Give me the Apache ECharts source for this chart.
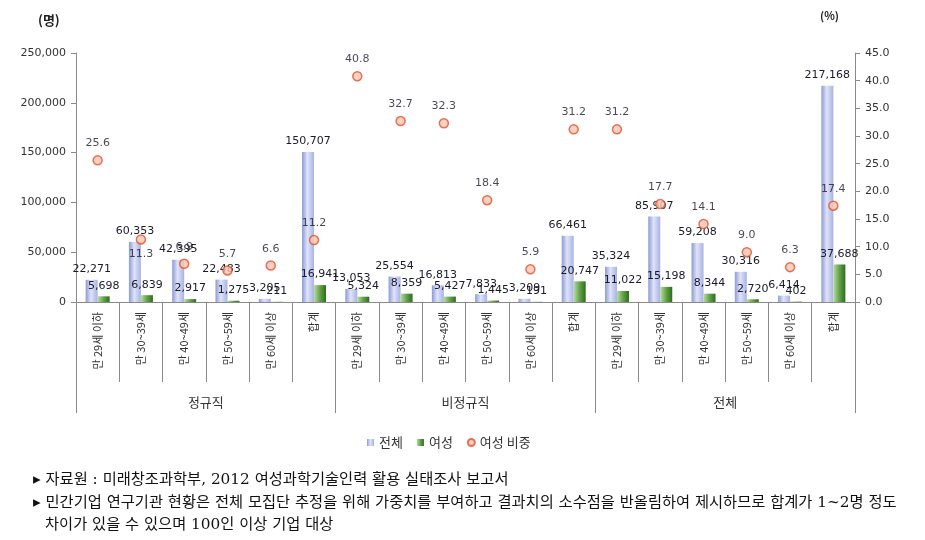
<!DOCTYPE html>
<html><head><meta charset="utf-8">
<script src="https://cdn.jsdelivr.net/npm/echarts@6/dist/echarts.min.js"></script>
<style>html,body{margin:0;padding:0;background:#fff}#c{width:925px;height:540px}</style>
</head><body><div id="c"></div>
<script>
var groups = ['정규직', '비정규직', '전체'];
var ages = ['만 29세 이하', '만 30~39세', '만 40~49세', '만 50~59세', '만 60세 이상', '합계'];
var categories = [].concat(ages, ages, ages);
var totalValues = [22271, 60353, 42395, 22483, 3205, 150707,
                   13053, 25554, 16813, 7833, 3209, 66461,
                   35324, 85907, 59208, 30316, 6414, 217168];
var femaleValues = [5698, 6839, 2917, 1275, 211, 16941,
                    5324, 8359, 5427, 1445, 191, 20747,
                    11022, 15198, 8344, 2720, 402, 37688];
var femaleRatio = [25.6, 11.3, 6.9, 5.7, 6.6, 11.2,
                   40.8, 32.7, 32.3, 18.4, 5.9, 31.2,
                   31.2, 17.7, 14.1, 9.0, 6.3, 17.4];
var leftTicks = [0, 50000, 100000, 150000, 200000, 250000];
var rightTicks = [0, 5, 10, 15, 20, 25, 30, 35, 40, 45];
var ratioLabelBelow = [1];

var FONT = 'DejaVu Sans, "Noto Sans CJK KR", sans-serif';
var KFONT = '"Noto Sans CJK KR", sans-serif';
function fmt(v){ return v.toLocaleString('en-US'); }

var chart = echarts.init(document.getElementById('c'), null, {renderer:'canvas'});
var ratioData = femaleRatio.map(function(v, i){
  var d = {value: v};
  if (ratioLabelBelow.indexOf(i) >= 0) d.label = {position: 'bottom', distance: 4};
  return d;
});
var blueGrad = new echarts.graphic.LinearGradient(0,0,1,0,[
  {offset:0,color:'#8c9ad6'},{offset:0.45,color:'#dfe4f8'},{offset:1,color:'#a7b2e4'}]);
var greenGrad = new echarts.graphic.LinearGradient(0,0,1,0,[
  {offset:0,color:'#b9dca2'},{offset:0.5,color:'#62a349'},{offset:1,color:'#2c6c1e'}]);
var NOTE_FONT = '15.3px "DejaVu Serif", "Noto Sans CJK KR", serif';

chart.setOption({
  animation: false,
  backgroundColor: '#fff',
  grid: {left: 76, right: 70, top: 53, bottom: 238},
  legend: {
    top: 431, left: 362, itemGap: 14, itemWidth: 7, itemHeight: 7,
    textStyle: {fontFamily: KFONT, fontSize: 13, color: '#333'},
    data: [{name:'전체', icon:'rect'}, {name:'여성', icon:'rect'}, {name:'여성 비중', icon:'circle'}]
  },
  xAxis: [{
    type: 'category', data: categories, gridIndex: 0,
    axisLine: {show: true, lineStyle: {color: '#8a8a8a'}},
    axisTick: {show: true, length: 80, interval: 0, lineStyle: {color: '#8a8a8a'}},
    axisLabel: {show: true, interval: 0, rotate: 90, margin: 10, fontFamily: KFONT, fontSize: 11, color: '#333'}
  }, {
    type: 'category', data: groups, gridIndex: 0, position: 'bottom',
    axisLine: {show: false},
    axisTick: {show: true, length: 111, interval: 0, lineStyle: {color: '#8a8a8a'}},
    axisLabel: {show: true, interval: 0, margin: 94, fontFamily: KFONT, fontSize: 13, color: '#333'}
  }],
  yAxis: [{
    type: 'value', min: leftTicks[0], max: leftTicks[leftTicks.length-1], interval: leftTicks[1]-leftTicks[0],
    axisLine: {show: true, lineStyle: {color: '#8a8a8a'}},
    axisTick: {show: true, length: 5, lineStyle: {color: '#8a8a8a'}},
    splitLine: {show: false},
    axisLabel: {formatter: function(v){return fmt(v);}, fontFamily: FONT, fontSize: 11, color: '#333', margin: 10}
  }, {
    type: 'value', min: rightTicks[0], max: rightTicks[rightTicks.length-1], interval: rightTicks[1]-rightTicks[0],
    position: 'right',
    axisLine: {show: true, lineStyle: {color: '#8a8a8a'}},
    axisTick: {show: true, length: 5, lineStyle: {color: '#8a8a8a'}},
    splitLine: {show: false},
    axisLabel: {formatter: function(v){return v.toFixed(1);}, fontFamily: FONT, fontSize: 11, color: '#333', margin: 10}
  }],
  graphic: [
    {type:'text', x: 38, y: 20, style:{text:'(명)', font:'bold 13px "Noto Sans CJK KR", sans-serif', fill:'#222', verticalAlign:'middle'}},
    {type:'text', x: 820, y: 16, style:{text:'(%)', font:'bold 11px "Noto Sans CJK KR", sans-serif', fill:'#222', verticalAlign:'middle'}},
    {type:'text', x: 33, y: 480, style:{text:'▸ 자료원 : 미래창조과학부, 2012 여성과학기술인력 활용 실태조사 보고서', font: NOTE_FONT, fill:'#111', verticalAlign:'middle'}},
    {type:'text', x: 33, y: 503, style:{text:'▸ 민간기업 연구기관 현황은 전체 모집단 추정을 위해 가중치를 부여하고 결과치의 소수점을 반올림하여 제시하므로 합계가 1~2명 정도', font: NOTE_FONT, fill:'#111', verticalAlign:'middle'}},
    {type:'text', x: 45, y: 525, style:{text:'차이가 있을 수 있으며 100인 이상 기업 대상', font: NOTE_FONT, fill:'#111', verticalAlign:'middle'}}
  ],
  series: [{
    name: '전체', type: 'bar', xAxisIndex: 0, yAxisIndex: 0, data: totalValues,
    barWidth: 12, barGap: '0%',
    itemStyle: {color: blueGrad},
    label: {show: true, position: 'top', distance: 5, formatter: function(p){return fmt(p.value);}, fontFamily: FONT, fontSize: 11, color: '#1a1a2a'}
  }, {
    name: '여성', type: 'bar', xAxisIndex: 0, yAxisIndex: 0, data: femaleValues,
    barWidth: 12, barGap: '0%',
    itemStyle: {color: greenGrad},
    label: {show: true, position: 'top', distance: 5, formatter: function(p){return fmt(p.value);}, fontFamily: FONT, fontSize: 11, color: '#1a1a2a'}
  }, {
    name: '여성 비중', type: 'scatter', xAxisIndex: 0, yAxisIndex: 1, data: ratioData,
    symbol: 'circle', symbolSize: 9,
    itemStyle: {color: '#f7c6b4', borderColor: '#e2512c', borderWidth: 1.5},
    label: {show: true, position: 'top', distance: 6, formatter: function(p){return p.value.toFixed(1);}, fontFamily: FONT, fontSize: 11, color: '#1a1a2a'},
    z: 5
  }]
});
</script></body></html>
